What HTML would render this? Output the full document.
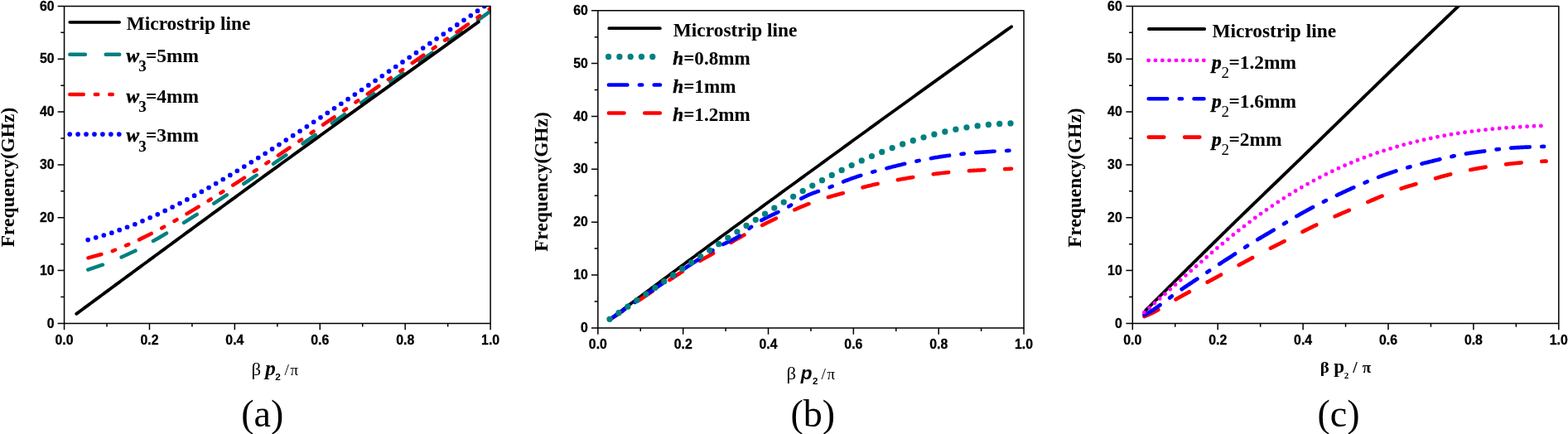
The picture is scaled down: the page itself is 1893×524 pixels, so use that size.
<!DOCTYPE html>
<html lang="en"><head><meta charset="utf-8"><title>Dispersion curves</title>
<style>html,body{margin:0;padding:0;background:#fff}body{width:1893px;height:524px;overflow:hidden}svg{display:block}</style>
</head><body>
<svg width="1893" height="524" viewBox="0 0 1893 524">
<rect width="1893" height="524" fill="#fff"/>
<g id="chart-a">
<clipPath id="clipa"><rect x="77.55" y="7.45" width="514.95" height="382.95"/></clipPath>
<g clip-path="url(#clipa)">
<path d="M106.3,325.61 L134.6,316.17 L162.9,303.03 L191.2,287.49 L219.5,270.46 L247.8,252.51 L276.1,233.99 L304.4,215.09 L332.7,195.92 L361,176.52 L389.3,156.91 L417.6,137.14 L445.9,117.24 L474.2,97.29 L502.5,77.31 L530.8,57.33 L559.1,37.28 L587.4,16.92 L594,12.1" fill="none" stroke="#008080" stroke-width="4.5" stroke-linecap="round" stroke-linejoin="round" stroke-dasharray="18.6 24.5"/>
<path d="M92.3,378.9 L94.74,377.1 L97.18,375.29 L99.62,373.49 L102.06,371.69 L104.5,369.89 L106.94,368.08 L109.38,366.28 L111.82,364.48 L114.26,362.68 L116.7,360.88 L119.14,359.08 L121.58,357.28 L124.02,355.48 L126.46,353.68 L128.9,351.88 L131.34,350.08 L133.77,348.28 L136.21,346.48 L138.65,344.68 L141.09,342.89 L143.53,341.09 L145.97,339.29 L148.41,337.49 L150.85,335.7 L153.29,333.9 L155.73,332.11 L158.17,330.31 L160.61,328.51 L163.05,326.72 L165.49,324.92 L167.93,323.13 L170.37,321.33 L172.81,319.54 L175.25,317.75 L177.69,315.95 L180.13,314.16 L182.57,312.37 L185.01,310.57 L187.45,308.78 L189.89,306.99 L192.33,305.2 L194.77,303.41 L197.21,301.61 L199.65,299.82 L202.09,298.03 L204.53,296.24 L206.97,294.45 L209.41,292.66 L211.85,290.87 L214.28,289.08 L216.72,287.29 L219.16,285.5 L221.6,283.71 L224.04,281.92 L226.48,280.13 L228.92,278.34 L231.36,276.56 L233.8,274.77 L236.24,272.98 L238.68,271.19 L241.12,269.41 L243.56,267.62 L246,265.83 L248.44,264.05 L250.88,262.26 L253.32,260.48 L255.76,258.69 L258.2,256.91 L260.64,255.12 L263.08,253.34 L265.52,251.56 L267.96,249.77 L270.4,247.99 L272.84,246.21 L275.28,244.43 L277.72,242.65 L280.16,240.86 L282.6,239.08 L285.04,237.3 L287.48,235.53 L289.92,233.75 L292.36,231.97 L294.79,230.19 L297.23,228.41 L299.67,226.64 L302.11,224.86 L304.55,223.09 L306.99,221.31 L309.43,219.54 L311.87,217.76 L314.31,215.99 L316.75,214.22 L319.19,212.45 L321.63,210.68 L324.07,208.91 L326.51,207.14 L328.95,205.37 L331.39,203.6 L333.83,201.83 L336.27,200.06 L338.71,198.29 L341.15,196.53 L343.59,194.76 L346.03,193 L348.47,191.23 L350.91,189.47 L353.35,187.7 L355.79,185.94 L358.23,184.17 L360.67,182.41 L363.11,180.65 L365.55,178.88 L367.99,177.12 L370.43,175.36 L372.87,173.6 L375.31,171.84 L377.74,170.08 L380.18,168.32 L382.62,166.56 L385.06,164.8 L387.5,163.04 L389.94,161.28 L392.38,159.52 L394.82,157.76 L397.26,156.01 L399.7,154.25 L402.14,152.49 L404.58,150.74 L407.02,148.98 L409.46,147.23 L411.9,145.47 L414.34,143.71 L416.78,141.96 L419.22,140.2 L421.66,138.45 L424.1,136.7 L426.54,134.94 L428.98,133.19 L431.42,131.43 L433.86,129.68 L436.3,127.92 L438.74,126.17 L441.18,124.42 L443.62,122.66 L446.06,120.91 L448.5,119.16 L450.94,117.4 L453.38,115.65 L455.82,113.9 L458.25,112.14 L460.69,110.39 L463.13,108.64 L465.57,106.88 L468.01,105.13 L470.45,103.37 L472.89,101.62 L475.33,99.87 L477.77,98.11 L480.21,96.36 L482.65,94.61 L485.09,92.85 L487.53,91.1 L489.97,89.35 L492.41,87.59 L494.85,85.84 L497.29,84.09 L499.73,82.33 L502.17,80.58 L504.61,78.83 L507.05,77.08 L509.49,75.32 L511.93,73.57 L514.37,71.82 L516.81,70.07 L519.25,68.32 L521.69,66.56 L524.13,64.81 L526.57,63.06 L529.01,61.31 L531.45,59.56 L533.89,57.81 L536.33,56.06 L538.76,54.3 L541.2,52.55 L543.64,50.8 L546.08,49.05 L548.52,47.3 L550.96,45.55 L553.4,43.8 L555.84,42.05 L558.28,40.3 L560.72,38.55 L563.16,36.8 L565.6,35.05 L568.04,33.3 L570.48,31.55 L572.92,29.8 L575.36,28.05 L577.8,26.3" fill="none" stroke="#000" stroke-width="3.9" stroke-linecap="round" stroke-linejoin="round"/>
<path d="M106.5,311.44 L134.8,303.53 L163.1,291.85 L191.4,277.62 L219.7,261.7 L248,244.65 L276.3,226.82 L304.6,208.43 L332.9,189.62 L361.2,170.48 L389.5,151.07 L417.8,131.5 L446.1,111.83 L474.4,92.16 L502.7,72.54 L531,52.96 L559.3,33.32 L587.6,13.33 L594,8.71" fill="none" stroke="#ff0000" stroke-width="4.5" stroke-linecap="round" stroke-linejoin="round" stroke-dasharray="16.5 14 3.5 14 3.5 14"/>
<path d="M106.2,289.61 L134.5,281.28 L162.8,270.8 L191.1,258.43 L219.4,244.43 L247.7,229.07 L276,212.59 L304.3,195.27 L332.6,177.37 L360.9,159.04 L389.2,140.38 L417.5,121.44 L445.8,102.3 L474.1,83.02 L502.4,63.68 L530.7,44.34 L559,25.06 L587.3,5.93 L601,-3.26" fill="none" stroke="#0000ff" stroke-width="5.7" stroke-linecap="round" stroke-linejoin="round" stroke-dasharray="0 9.96"/>
</g>
<rect x="77.55" y="7.45" width="514.55" height="382.95" fill="none" stroke="#000" stroke-width="1.5" stroke-linejoin="round"/>
<path d="M69.65,390.4H77.55M73.35,358.49H77.55M69.65,326.57H77.55M73.35,294.66H77.55M69.65,262.75H77.55M73.35,230.84H77.55M69.65,198.92H77.55M73.35,167.01H77.55M69.65,135.1H77.55M73.35,103.19H77.55M69.65,71.27H77.55M73.35,39.36H77.55M69.65,7.45H77.55M77.55,390.4V398.3M129,390.4V394.6M180.46,390.4V398.3M231.92,390.4V394.6M283.37,390.4V398.3M334.83,390.4V394.6M386.28,390.4V398.3M437.74,390.4V394.6M489.19,390.4V398.3M540.65,390.4V394.6M592.1,390.4V398.3" stroke="#000" stroke-width="1.5" fill="none"/>
<g font-family="'Liberation Sans', Arial, sans-serif" font-weight="bold" font-size="16.6" fill="#000" stroke="#000" stroke-width="0.3">
<text transform="translate(65.55,395.5) scale(0.955,1)" text-anchor="end">0</text>
<text transform="translate(65.55,331.68) scale(0.955,1)" text-anchor="end">10</text>
<text transform="translate(65.55,267.85) scale(0.955,1)" text-anchor="end">20</text>
<text transform="translate(65.55,204.02) scale(0.955,1)" text-anchor="end">30</text>
<text transform="translate(65.55,140.2) scale(0.955,1)" text-anchor="end">40</text>
<text transform="translate(65.55,76.37) scale(0.955,1)" text-anchor="end">50</text>
<text transform="translate(65.55,12.55) scale(0.955,1)" text-anchor="end">60</text>
<text transform="translate(77.55,415.9) scale(0.955,1)" text-anchor="middle">0.0</text>
<text transform="translate(180.46,415.9) scale(0.955,1)" text-anchor="middle">0.2</text>
<text transform="translate(283.37,415.9) scale(0.955,1)" text-anchor="middle">0.4</text>
<text transform="translate(386.28,415.9) scale(0.955,1)" text-anchor="middle">0.6</text>
<text transform="translate(489.19,415.9) scale(0.955,1)" text-anchor="middle">0.8</text>
<text transform="translate(592.1,415.9) scale(0.955,1)" text-anchor="middle">1.0</text>
</g>
<text transform="translate(16.5,214) rotate(-90)" text-anchor="middle" font-family="'Liberation Serif', 'Times New Roman', serif" font-weight="bold" font-size="23.4" fill="#000">Frequency(GHz)</text>
<path d="M84.3,26.8H144.1" fill="none" stroke="#000" stroke-width="3.8" stroke-linecap="round"/>
<path d="M84.3,65.7H144.2" fill="none" stroke="#008080" stroke-width="4.5" stroke-linecap="round" stroke-dasharray="18.6 24.75"/>
<path d="M84.3,114.1H144" fill="none" stroke="#ff0000" stroke-width="4.5" stroke-linecap="round" stroke-dasharray="16.5 14 3.5 14 3.5 14"/>
<path d="M84.2,162.1H144" fill="none" stroke="#0000ff" stroke-width="5.7" stroke-linecap="round" stroke-dasharray="0 9.93"/>
<text x="152.7" y="35.9" font-family="'Liberation Serif', 'Times New Roman', serif" font-weight="bold" font-size="23.4" fill="#000">Microstrip line</text>
<text y="75" font-family="'Liberation Serif', 'Times New Roman', serif" font-weight="bold" font-size="23.4" fill="#000"><tspan x="152.6" font-style="italic" stroke="#000" stroke-width="0.45">w</tspan><tspan x="167.3" dy="11.4" font-size="19" font-weight="bold">3</tspan><tspan x="176" dy="-11.4">=5mm</tspan></text>
<text y="123.7" font-family="'Liberation Serif', 'Times New Roman', serif" font-weight="bold" font-size="23.4" fill="#000"><tspan x="152.6" font-style="italic" stroke="#000" stroke-width="0.45">w</tspan><tspan x="167.3" dy="11.4" font-size="19" font-weight="bold">3</tspan><tspan x="176" dy="-11.4">=4mm</tspan></text>
<text y="171.1" font-family="'Liberation Serif', 'Times New Roman', serif" font-weight="bold" font-size="23.4" fill="#000"><tspan x="152.6" font-style="italic" stroke="#000" stroke-width="0.45">w</tspan><tspan x="167.3" dy="11.4" font-size="19" font-weight="bold">3</tspan><tspan x="176" dy="-11.4">=3mm</tspan></text>
<text transform="translate(303.5,452.9) scale(1.15,1)" font-family="'Liberation Serif', 'Times New Roman', serif" font-weight="normal" font-style="normal" font-size="20" fill="#000">β</text>
<text x="320.3" y="452.9" font-family="'Liberation Serif', 'Times New Roman', serif" font-weight="bold" font-style="italic" font-size="25" fill="#000">p</text>
<text x="332.3" y="459.3" font-family="'Liberation Sans', Arial, sans-serif" font-weight="bold" font-style="normal" font-size="11.8" fill="#000">2</text>
<text x="343.6" y="452.9" font-family="'Liberation Serif', 'Times New Roman', serif" font-weight="normal" font-style="normal" font-size="19.5" fill="#000">/</text>
<text x="350.4" y="452.9" font-family="'Liberation Serif', 'Times New Roman', serif" font-weight="normal" font-style="normal" font-size="19" fill="#000">π</text>
<text x="316.8" y="514.8" text-anchor="middle" font-family="'Liberation Serif', 'Times New Roman', serif" font-size="46" fill="#000">(a)</text>
</g>
<g id="chart-b">
<path d="M736.2,385.6 L738.64,383.77 L741.07,381.95 L743.51,380.12 L745.95,378.3 L748.38,376.48 L750.82,374.65 L753.26,372.83 L755.69,371.01 L758.13,369.19 L760.57,367.37 L763,365.55 L765.44,363.73 L767.88,361.91 L770.31,360.09 L772.75,358.28 L775.19,356.46 L777.62,354.64 L780.06,352.83 L782.5,351.01 L784.93,349.2 L787.37,347.39 L789.81,345.57 L792.24,343.76 L794.68,341.95 L797.12,340.14 L799.55,338.33 L801.99,336.52 L804.43,334.71 L806.86,332.9 L809.3,331.09 L811.74,329.28 L814.17,327.47 L816.61,325.67 L819.05,323.86 L821.48,322.06 L823.92,320.25 L826.36,318.45 L828.79,316.64 L831.23,314.84 L833.67,313.04 L836.1,311.24 L838.54,309.44 L840.98,307.64 L843.41,305.84 L845.85,304.04 L848.29,302.24 L850.72,300.44 L853.16,298.64 L855.6,296.84 L858.03,295.05 L860.47,293.25 L862.91,291.46 L865.34,289.66 L867.78,287.87 L870.22,286.08 L872.65,284.29 L875.09,282.5 L877.53,280.71 L879.96,278.92 L882.4,277.13 L884.84,275.34 L887.27,273.56 L889.71,271.77 L892.15,269.98 L894.58,268.2 L897.02,266.42 L899.46,264.63 L901.89,262.85 L904.33,261.07 L906.77,259.29 L909.2,257.5 L911.64,255.72 L914.08,253.94 L916.51,252.16 L918.95,250.38 L921.39,248.61 L923.82,246.83 L926.26,245.05 L928.7,243.27 L931.13,241.5 L933.57,239.72 L936.01,237.94 L938.44,236.17 L940.88,234.39 L943.32,232.62 L945.75,230.84 L948.19,229.07 L950.63,227.29 L953.06,225.52 L955.5,223.74 L957.94,221.97 L960.37,220.19 L962.81,218.42 L965.25,216.65 L967.68,214.87 L970.12,213.1 L972.56,211.33 L974.99,209.55 L977.43,207.78 L979.87,206.01 L982.31,204.23 L984.74,202.46 L987.18,200.69 L989.62,198.91 L992.05,197.14 L994.49,195.37 L996.93,193.6 L999.36,191.82 L1001.8,190.05 L1004.24,188.28 L1006.67,186.51 L1009.11,184.73 L1011.55,182.96 L1013.98,181.19 L1016.42,179.42 L1018.86,177.65 L1021.29,175.88 L1023.73,174.11 L1026.17,172.34 L1028.6,170.57 L1031.04,168.8 L1033.48,167.03 L1035.91,165.26 L1038.35,163.49 L1040.79,161.73 L1043.22,159.96 L1045.66,158.19 L1048.1,156.42 L1050.53,154.66 L1052.97,152.89 L1055.41,151.13 L1057.84,149.36 L1060.28,147.6 L1062.72,145.83 L1065.15,144.07 L1067.59,142.3 L1070.03,140.54 L1072.46,138.78 L1074.9,137.02 L1077.34,135.26 L1079.77,133.49 L1082.21,131.73 L1084.65,129.97 L1087.08,128.22 L1089.52,126.46 L1091.96,124.7 L1094.39,122.94 L1096.83,121.19 L1099.27,119.43 L1101.7,117.67 L1104.14,115.92 L1106.58,114.16 L1109.01,112.41 L1111.45,110.66 L1113.89,108.9 L1116.32,107.15 L1118.76,105.4 L1121.2,103.65 L1123.63,101.89 L1126.07,100.14 L1128.51,98.39 L1130.94,96.64 L1133.38,94.89 L1135.82,93.14 L1138.25,91.39 L1140.69,89.65 L1143.13,87.9 L1145.56,86.15 L1148,84.4 L1150.44,82.66 L1152.87,80.91 L1155.31,79.16 L1157.75,77.42 L1160.18,75.67 L1162.62,73.93 L1165.06,72.19 L1167.49,70.44 L1169.93,68.7 L1172.37,66.96 L1174.8,65.21 L1177.24,63.47 L1179.68,61.73 L1182.11,59.99 L1184.55,58.25 L1186.99,56.51 L1189.42,54.77 L1191.86,53.03 L1194.3,51.29 L1196.73,49.56 L1199.17,47.82 L1201.61,46.08 L1204.04,44.34 L1206.48,42.61 L1208.92,40.87 L1211.35,39.14 L1213.79,37.4 L1216.23,35.67 L1218.66,33.93 L1221.1,32.2" fill="none" stroke="#000" stroke-width="3.8" stroke-linecap="round" stroke-linejoin="round"/>
<path d="M736,386 L737.22,385.2 L738.43,384.41 L739.65,383.61 L740.86,382.81 L742.08,382.01 L743.29,381.21 L744.51,380.41 L745.73,379.61 L746.94,378.81 L748.16,378 L749.37,377.2 L750.59,376.39 L751.81,375.59 L753.02,374.78 L754.24,373.98 L755.45,373.17 L756.67,372.36 L757.88,371.55 L759.1,370.75 L760.32,369.94 L761.53,369.13 L762.75,368.32 L763.96,367.51 L765.18,366.7 L766.39,365.89 L767.61,365.08 L768.83,364.27 L770.04,363.46 L771.26,362.65 L772.47,361.84 L773.69,361.03 L774.91,360.22 L776.12,359.41 L777.34,358.59 L778.55,357.78 L779.77,356.97 L780.98,356.16 L782.2,355.35 L783.42,354.54 L784.63,353.73 L785.85,352.92 L787.06,352.11 L788.28,351.3 L789.49,350.49 L790.71,349.68 L791.93,348.88 L793.14,348.07 L794.36,347.26 L795.57,346.45 L796.79,345.65 L798.01,344.84 L799.22,344.04 L800.44,343.23 L801.65,342.43 L802.87,341.62 L804.08,340.82 L805.3,340.02 L806.52,339.22 L807.73,338.42 L808.95,337.62 L810.16,336.82 L811.38,336.02 L812.59,335.22 L813.81,334.43 L815.03,333.63 L816.24,332.84 L817.46,332.04 L818.67,331.25 L819.89,330.46 L821.11,329.67 L822.32,328.88 L823.54,328.09 L824.75,327.31 L825.97,326.53 L827.18,325.75 L828.4,324.97 L829.62,324.2 L830.83,323.43 L832.05,322.66 L833.26,321.9 L834.48,321.15 L835.69,320.4 L836.91,319.66 L838.13,318.92 L839.34,318.19 L840.56,317.46 L841.77,316.75 L842.99,316.04 L844.21,315.33 L845.42,314.64 L846.64,313.95 L847.85,313.27 L849.07,312.6 L850.28,311.93 L851.5,311.26 L852.72,310.59 L853.93,309.93 L855.15,309.26 L856.36,308.58 L857.58,307.91 L858.79,307.22 L860.01,306.53 L861.23,305.83 L862.44,305.12 L863.66,304.4 L864.87,303.67 L866.09,302.93 L867.31,302.19 L868.52,301.44 L869.74,300.68 L870.95,299.92 L872.17,299.16 L873.38,298.4 L874.6,297.64 L875.82,296.88 L877.03,296.12 L878.25,295.37 L879.46,294.62 L880.68,293.87 L881.89,293.14 L883.11,292.41 L884.33,291.68 L885.54,290.97 L886.76,290.26 L887.97,289.56 L889.19,288.86 L890.41,288.17 L891.62,287.48 L892.84,286.8 L894.05,286.12 L895.27,285.44 L896.48,284.76 L897.7,284.09 L898.92,283.41 L900.13,282.74 L901.35,282.07 L902.56,281.39 L903.78,280.72 L904.99,280.05 L906.21,279.38 L907.43,278.71 L908.64,278.05 L909.86,277.39 L911.07,276.73 L912.29,276.07 L913.51,275.42 L914.72,274.77 L915.94,274.13 L917.15,273.49 L918.37,272.85 L919.58,272.23 L920.8,271.6 L922.02,270.98 L923.23,270.37 L924.45,269.76 L925.66,269.16 L926.88,268.55 L928.09,267.96 L929.31,267.36 L930.53,266.77 L931.74,266.18 L932.96,265.6 L934.17,265.01 L935.39,264.43 L936.61,263.85 L937.82,263.26 L939.04,262.68 L940.25,262.1 L941.47,261.52 L942.68,260.94 L943.9,260.36 L945.12,259.79 L946.33,259.21 L947.55,258.64 L948.76,258.06 L949.98,257.5 L951.19,256.93 L952.41,256.37 L953.63,255.8 L954.84,255.25 L956.06,254.7 L957.27,254.15 L958.49,253.6 L959.71,253.06 L960.92,252.53 L962.14,252 L963.35,251.47 L964.57,250.95 L965.78,250.43 L967,249.92 L968.22,249.41 L969.43,248.91 L970.65,248.42 L971.86,247.92 L973.08,247.44 L974.29,246.96 L975.51,246.48 L976.73,246.01 L977.94,245.55 L979.16,245.09 L980.37,244.63 L981.59,244.18 L982.81,243.74 L984.02,243.3 L985.24,242.87 L986.45,242.44 L987.67,242.02 L988.88,241.6 L990.1,241.2 L991.32,240.79 L992.53,240.39 L993.75,240 L994.96,239.62 L996.18,239.24 L997.39,238.86 L998.61,238.49 L999.83,238.13 L1001.04,237.78 L1002.26,237.43 L1003.47,237.08 L1004.69,236.74 L1005.91,236.4 L1007.12,236.07 L1008.34,235.74 L1009.55,235.41 L1010.77,235.08 L1011.98,234.75 L1013.2,234.42 L1014.42,234.09 L1015.63,233.76 L1016.85,233.42 L1018.06,233.08 L1019.28,232.74 L1020.49,232.4 L1021.71,232.05 L1022.93,231.7 L1024.14,231.34 L1025.36,230.99 L1026.57,230.63 L1027.79,230.27 L1029.01,229.91 L1030.22,229.55 L1031.44,229.19 L1032.65,228.84 L1033.87,228.48 L1035.08,228.13 L1036.3,227.78 L1037.52,227.43 L1038.73,227.09 L1039.95,226.75 L1041.16,226.42 L1042.38,226.09 L1043.59,225.76 L1044.81,225.45 L1046.03,225.13 L1047.24,224.82 L1048.46,224.52 L1049.67,224.22 L1050.89,223.92 L1052.11,223.63 L1053.32,223.35 L1054.54,223.06 L1055.75,222.79 L1056.97,222.51 L1058.18,222.24 L1059.4,221.97 L1060.62,221.7 L1061.83,221.44 L1063.05,221.18 L1064.26,220.92 L1065.48,220.67 L1066.69,220.42 L1067.91,220.17 L1069.13,219.93 L1070.34,219.68 L1071.56,219.44 L1072.77,219.2 L1073.99,218.97 L1075.21,218.73 L1076.42,218.5 L1077.64,218.27 L1078.85,218.04 L1080.07,217.82 L1081.28,217.59 L1082.5,217.37 L1083.72,217.15 L1084.93,216.93 L1086.15,216.72 L1087.36,216.5 L1088.58,216.29 L1089.79,216.08 L1091.01,215.87 L1092.23,215.66 L1093.44,215.45 L1094.66,215.24 L1095.87,215.04 L1097.09,214.83 L1098.31,214.63 L1099.52,214.42 L1100.74,214.22 L1101.95,214.02 L1103.17,213.82 L1104.38,213.62 L1105.6,213.42 L1106.82,213.22 L1108.03,213.03 L1109.25,212.83 L1110.46,212.63 L1111.68,212.44 L1112.89,212.25 L1114.11,212.06 L1115.33,211.87 L1116.54,211.68 L1117.76,211.5 L1118.97,211.32 L1120.19,211.14 L1121.41,210.96 L1122.62,210.78 L1123.84,210.61 L1125.05,210.44 L1126.27,210.28 L1127.48,210.12 L1128.7,209.96 L1129.92,209.8 L1131.13,209.65 L1132.35,209.5 L1133.56,209.36 L1134.78,209.21 L1135.99,209.08 L1137.21,208.94 L1138.43,208.8 L1139.64,208.67 L1140.86,208.55 L1142.07,208.42 L1143.29,208.3 L1144.51,208.18 L1145.72,208.06 L1146.94,207.95 L1148.15,207.83 L1149.37,207.73 L1150.58,207.62 L1151.8,207.51 L1153.02,207.41 L1154.23,207.31 L1155.45,207.21 L1156.66,207.12 L1157.88,207.02 L1159.09,206.93 L1160.31,206.84 L1161.53,206.75 L1162.74,206.67 L1163.96,206.58 L1165.17,206.5 L1166.39,206.42 L1167.61,206.34 L1168.82,206.26 L1170.04,206.19 L1171.25,206.11 L1172.47,206.04 L1173.68,205.97 L1174.9,205.9 L1176.12,205.83 L1177.33,205.76 L1178.55,205.7 L1179.76,205.63 L1180.98,205.57 L1182.19,205.51 L1183.41,205.45 L1184.63,205.38 L1185.84,205.32 L1187.06,205.27 L1188.27,205.21 L1189.49,205.15 L1190.71,205.09 L1191.92,205.04 L1193.14,204.98 L1194.35,204.93 L1195.57,204.87 L1196.78,204.82 L1198,204.77 L1199.22,204.71 L1200.43,204.66 L1201.65,204.61 L1202.86,204.56 L1204.08,204.51 L1205.29,204.45 L1206.51,204.4 L1207.73,204.35 L1208.94,204.3 L1210.16,204.25 L1211.37,204.19 L1212.59,204.14 L1213.81,204.09 L1215.02,204.04 L1216.24,203.98 L1217.45,203.93 L1218.67,203.87 L1219.88,203.82 L1221.1,203.77" fill="none" stroke="#ff0000" stroke-width="4.6" stroke-linecap="round" stroke-linejoin="round" stroke-dasharray="18.6 24.75"/>
<path d="M736,385.8 L737.22,384.98 L738.43,384.15 L739.65,383.33 L740.86,382.51 L742.08,381.68 L743.29,380.86 L744.51,380.03 L745.73,379.21 L746.94,378.38 L748.16,377.55 L749.37,376.72 L750.59,375.9 L751.81,375.07 L753.02,374.24 L754.24,373.41 L755.45,372.58 L756.67,371.75 L757.88,370.92 L759.1,370.09 L760.32,369.26 L761.53,368.43 L762.75,367.6 L763.96,366.77 L765.18,365.93 L766.39,365.1 L767.61,364.27 L768.83,363.44 L770.04,362.61 L771.26,361.78 L772.47,360.94 L773.69,360.11 L774.91,359.28 L776.12,358.45 L777.34,357.62 L778.55,356.79 L779.77,355.95 L780.98,355.12 L782.2,354.29 L783.42,353.46 L784.63,352.63 L785.85,351.8 L787.06,350.97 L788.28,350.14 L789.49,349.31 L790.71,348.48 L791.93,347.65 L793.14,346.82 L794.36,345.99 L795.57,345.16 L796.79,344.33 L798.01,343.5 L799.22,342.68 L800.44,341.85 L801.65,341.02 L802.87,340.2 L804.08,339.37 L805.3,338.55 L806.52,337.72 L807.73,336.9 L808.95,336.07 L810.16,335.25 L811.38,334.43 L812.59,333.61 L813.81,332.79 L815.03,331.97 L816.24,331.15 L817.46,330.33 L818.67,329.51 L819.89,328.69 L821.11,327.88 L822.32,327.06 L823.54,326.25 L824.75,325.43 L825.97,324.62 L827.18,323.81 L828.4,323 L829.62,322.19 L830.83,321.38 L832.05,320.58 L833.26,319.77 L834.48,318.97 L835.69,318.17 L836.91,317.37 L838.13,316.57 L839.34,315.77 L840.56,314.98 L841.77,314.18 L842.99,313.39 L844.21,312.6 L845.42,311.82 L846.64,311.03 L847.85,310.25 L849.07,309.47 L850.28,308.69 L851.5,307.92 L852.72,307.14 L853.93,306.37 L855.15,305.6 L856.36,304.84 L857.58,304.08 L858.79,303.32 L860.01,302.56 L861.23,301.81 L862.44,301.06 L863.66,300.31 L864.87,299.57 L866.09,298.85 L867.31,298.13 L868.52,297.43 L869.74,296.75 L870.95,296.09 L872.17,295.44 L873.38,294.82 L874.6,294.22 L875.82,293.64 L877.03,293.06 L878.25,292.5 L879.46,291.93 L880.68,291.37 L881.89,290.8 L883.11,290.22 L884.33,289.63 L885.54,289.02 L886.76,288.39 L887.97,287.74 L889.19,287.05 L890.41,286.34 L891.62,285.59 L892.84,284.79 L894.05,283.95 L895.27,283.07 L896.48,282.16 L897.7,281.22 L898.92,280.27 L900.13,279.3 L901.35,278.32 L902.56,277.35 L903.78,276.38 L904.99,275.43 L906.21,274.51 L907.43,273.6 L908.64,272.73 L909.86,271.88 L911.07,271.05 L912.29,270.25 L913.51,269.47 L914.72,268.71 L915.94,267.97 L917.15,267.25 L918.37,266.55 L919.58,265.86 L920.8,265.2 L922.02,264.54 L923.23,263.91 L924.45,263.28 L925.66,262.67 L926.88,262.06 L928.09,261.46 L929.31,260.87 L930.53,260.29 L931.74,259.71 L932.96,259.13 L934.17,258.56 L935.39,257.98 L936.61,257.41 L937.82,256.83 L939.04,256.25 L940.25,255.66 L941.47,255.07 L942.68,254.47 L943.9,253.85 L945.12,253.23 L946.33,252.6 L947.55,251.95 L948.76,251.29 L949.98,250.61 L951.19,249.92 L952.41,249.2 L953.63,248.47 L954.84,247.72 L956.06,246.95 L957.27,246.17 L958.49,245.38 L959.71,244.59 L960.92,243.8 L962.14,243.02 L963.35,242.25 L964.57,241.49 L965.78,240.75 L967,240.04 L968.22,239.34 L969.43,238.68 L970.65,238.04 L971.86,237.43 L973.08,236.83 L974.29,236.26 L975.51,235.71 L976.73,235.18 L977.94,234.66 L979.16,234.16 L980.37,233.68 L981.59,233.2 L982.81,232.74 L984.02,232.29 L985.24,231.85 L986.45,231.42 L987.67,230.99 L988.88,230.57 L990.1,230.16 L991.32,229.74 L992.53,229.33 L993.75,228.91 L994.96,228.5 L996.18,228.08 L997.39,227.66 L998.61,227.23 L999.83,226.8 L1001.04,226.36 L1002.26,225.9 L1003.47,225.44 L1004.69,224.97 L1005.91,224.48 L1007.12,223.99 L1008.34,223.49 L1009.55,222.98 L1010.77,222.47 L1011.98,221.95 L1013.2,221.44 L1014.42,220.93 L1015.63,220.42 L1016.85,219.91 L1018.06,219.42 L1019.28,218.93 L1020.49,218.44 L1021.71,217.97 L1022.93,217.5 L1024.14,217.04 L1025.36,216.59 L1026.57,216.14 L1027.79,215.7 L1029.01,215.26 L1030.22,214.84 L1031.44,214.41 L1032.65,214 L1033.87,213.59 L1035.08,213.19 L1036.3,212.79 L1037.52,212.39 L1038.73,212.01 L1039.95,211.62 L1041.16,211.24 L1042.38,210.87 L1043.59,210.5 L1044.81,210.14 L1046.03,209.78 L1047.24,209.42 L1048.46,209.07 L1049.67,208.72 L1050.89,208.37 L1052.11,208.03 L1053.32,207.69 L1054.54,207.35 L1055.75,207.02 L1056.97,206.69 L1058.18,206.36 L1059.4,206.04 L1060.62,205.71 L1061.83,205.39 L1063.05,205.07 L1064.26,204.75 L1065.48,204.44 L1066.69,204.12 L1067.91,203.81 L1069.13,203.5 L1070.34,203.18 L1071.56,202.87 L1072.77,202.56 L1073.99,202.25 L1075.21,201.95 L1076.42,201.64 L1077.64,201.33 L1078.85,201.03 L1080.07,200.73 L1081.28,200.42 L1082.5,200.12 L1083.72,199.82 L1084.93,199.53 L1086.15,199.23 L1087.36,198.94 L1088.58,198.64 L1089.79,198.35 L1091.01,198.06 L1092.23,197.77 L1093.44,197.49 L1094.66,197.21 L1095.87,196.92 L1097.09,196.65 L1098.31,196.37 L1099.52,196.09 L1100.74,195.82 L1101.95,195.55 L1103.17,195.28 L1104.38,195.02 L1105.6,194.75 L1106.82,194.49 L1108.03,194.23 L1109.25,193.98 L1110.46,193.73 L1111.68,193.48 L1112.89,193.23 L1114.11,192.99 L1115.33,192.74 L1116.54,192.51 L1117.76,192.27 L1118.97,192.04 L1120.19,191.81 L1121.41,191.59 L1122.62,191.36 L1123.84,191.15 L1125.05,190.93 L1126.27,190.72 L1127.48,190.51 L1128.7,190.3 L1129.92,190.1 L1131.13,189.9 L1132.35,189.71 L1133.56,189.51 L1134.78,189.32 L1135.99,189.14 L1137.21,188.95 L1138.43,188.77 L1139.64,188.59 L1140.86,188.42 L1142.07,188.24 L1143.29,188.08 L1144.51,187.91 L1145.72,187.74 L1146.94,187.58 L1148.15,187.43 L1149.37,187.27 L1150.58,187.12 L1151.8,186.97 L1153.02,186.82 L1154.23,186.67 L1155.45,186.53 L1156.66,186.39 L1157.88,186.25 L1159.09,186.12 L1160.31,185.98 L1161.53,185.85 L1162.74,185.72 L1163.96,185.6 L1165.17,185.47 L1166.39,185.35 L1167.61,185.23 L1168.82,185.12 L1170.04,185 L1171.25,184.89 L1172.47,184.78 L1173.68,184.67 L1174.9,184.56 L1176.12,184.46 L1177.33,184.35 L1178.55,184.25 L1179.76,184.15 L1180.98,184.06 L1182.19,183.96 L1183.41,183.87 L1184.63,183.77 L1185.84,183.68 L1187.06,183.59 L1188.27,183.51 L1189.49,183.42 L1190.71,183.34 L1191.92,183.26 L1193.14,183.18 L1194.35,183.1 L1195.57,183.02 L1196.78,182.94 L1198,182.87 L1199.22,182.79 L1200.43,182.72 L1201.65,182.65 L1202.86,182.58 L1204.08,182.51 L1205.29,182.44 L1206.51,182.38 L1207.73,182.31 L1208.94,182.25 L1210.16,182.19 L1211.37,182.12 L1212.59,182.06 L1213.81,182 L1215.02,181.94 L1216.24,181.88 L1217.45,181.83 L1218.67,181.77 L1219.88,181.72 L1221.1,181.66" fill="none" stroke="#0000ff" stroke-width="4.6" stroke-linecap="round" stroke-linejoin="round" stroke-dasharray="22.5 14.5 3.3 14.5"/>
<path d="M736,385.3 L737.21,384.47 L738.43,383.63 L739.64,382.8 L740.85,381.97 L742.07,381.13 L743.28,380.3 L744.49,379.46 L745.71,378.63 L746.92,377.79 L748.14,376.96 L749.35,376.12 L750.56,375.28 L751.78,374.45 L752.99,373.61 L754.2,372.77 L755.42,371.93 L756.63,371.1 L757.84,370.26 L759.06,369.42 L760.27,368.58 L761.48,367.74 L762.7,366.9 L763.91,366.06 L765.12,365.22 L766.34,364.38 L767.55,363.54 L768.77,362.7 L769.98,361.86 L771.19,361.02 L772.41,360.18 L773.62,359.34 L774.83,358.5 L776.05,357.66 L777.26,356.82 L778.47,355.98 L779.69,355.14 L780.9,354.3 L782.11,353.46 L783.33,352.62 L784.54,351.78 L785.75,350.94 L786.97,350.1 L788.18,349.26 L789.4,348.41 L790.61,347.57 L791.82,346.73 L793.04,345.89 L794.25,345.05 L795.46,344.21 L796.68,343.37 L797.89,342.53 L799.1,341.69 L800.32,340.85 L801.53,340.01 L802.74,339.17 L803.96,338.33 L805.17,337.49 L806.38,336.65 L807.6,335.81 L808.81,334.97 L810.03,334.13 L811.24,333.3 L812.45,332.46 L813.67,331.62 L814.88,330.78 L816.09,329.94 L817.31,329.11 L818.52,328.27 L819.73,327.43 L820.95,326.6 L822.16,325.76 L823.37,324.92 L824.59,324.09 L825.8,323.25 L827.02,322.42 L828.23,321.58 L829.44,320.75 L830.66,319.91 L831.87,319.08 L833.08,318.25 L834.3,317.41 L835.51,316.58 L836.72,315.75 L837.94,314.92 L839.15,314.09 L840.36,313.26 L841.58,312.42 L842.79,311.6 L844,310.77 L845.22,309.94 L846.43,309.11 L847.65,308.28 L848.86,307.45 L850.07,306.63 L851.29,305.8 L852.5,304.97 L853.71,304.15 L854.93,303.32 L856.14,302.5 L857.35,301.68 L858.57,300.85 L859.78,300.03 L860.99,299.21 L862.21,298.39 L863.42,297.57 L864.63,296.75 L865.85,295.93 L867.06,295.11 L868.28,294.29 L869.49,293.48 L870.7,292.66 L871.92,291.85 L873.13,291.03 L874.34,290.22 L875.56,289.41 L876.77,288.59 L877.98,287.78 L879.2,286.97 L880.41,286.16 L881.62,285.35 L882.84,284.55 L884.05,283.74 L885.26,282.94 L886.48,282.13 L887.69,281.33 L888.91,280.53 L890.12,279.72 L891.33,278.92 L892.55,278.12 L893.76,277.33 L894.97,276.53 L896.19,275.73 L897.4,274.94 L898.61,274.14 L899.83,273.35 L901.04,272.56 L902.25,271.77 L903.47,270.98 L904.68,270.19 L905.89,269.41 L907.11,268.62 L908.32,267.84 L909.54,267.06 L910.75,266.28 L911.96,265.5 L913.18,264.72 L914.39,263.94 L915.6,263.17 L916.82,262.39 L918.03,261.62 L919.24,260.85 L920.46,260.08 L921.67,259.31 L922.88,258.54 L924.1,257.78 L925.31,257.02 L926.52,256.25 L927.74,255.49 L928.95,254.73 L930.17,253.98 L931.38,253.22 L932.59,252.47 L933.81,251.71 L935.02,250.96 L936.23,250.21 L937.45,249.47 L938.66,248.72 L939.87,247.98 L941.09,247.24 L942.3,246.5 L943.51,245.76 L944.73,245.02 L945.94,244.29 L947.15,243.55 L948.37,242.82 L949.58,242.09 L950.8,241.37 L952.01,240.64 L953.22,239.92 L954.44,239.2 L955.65,238.48 L956.86,237.76 L958.08,237.04 L959.29,236.33 L960.5,235.62 L961.72,234.91 L962.93,234.2 L964.14,233.5 L965.36,232.79 L966.57,232.09 L967.78,231.39 L969,230.7 L970.21,230 L971.43,229.31 L972.64,228.62 L973.85,227.93 L975.07,227.25 L976.28,226.56 L977.49,225.88 L978.71,225.2 L979.92,224.52 L981.13,223.85 L982.35,223.18 L983.56,222.51 L984.77,221.84 L985.99,221.18 L987.2,220.51 L988.42,219.85 L989.63,219.19 L990.84,218.54 L992.06,217.88 L993.27,217.23 L994.48,216.58 L995.7,215.94 L996.91,215.29 L998.12,214.65 L999.34,214.01 L1000.55,213.38 L1001.76,212.74 L1002.98,212.11 L1004.19,211.48 L1005.4,210.85 L1006.62,210.23 L1007.83,209.61 L1009.05,208.99 L1010.26,208.37 L1011.47,207.76 L1012.69,207.15 L1013.9,206.54 L1015.11,205.93 L1016.33,205.33 L1017.54,204.73 L1018.75,204.13 L1019.97,203.53 L1021.18,202.94 L1022.39,202.35 L1023.61,201.76 L1024.82,201.17 L1026.03,200.59 L1027.25,200.01 L1028.46,199.43 L1029.68,198.86 L1030.89,198.28 L1032.1,197.71 L1033.32,197.15 L1034.53,196.58 L1035.74,196.02 L1036.96,195.46 L1038.17,194.91 L1039.38,194.35 L1040.6,193.8 L1041.81,193.26 L1043.02,192.71 L1044.24,192.17 L1045.45,191.63 L1046.66,191.1 L1047.88,190.56 L1049.09,190.03 L1050.31,189.5 L1051.52,188.98 L1052.73,188.46 L1053.95,187.94 L1055.16,187.42 L1056.37,186.91 L1057.59,186.4 L1058.8,185.89 L1060.01,185.39 L1061.23,184.89 L1062.44,184.39 L1063.65,183.89 L1064.87,183.4 L1066.08,182.91 L1067.29,182.43 L1068.51,181.94 L1069.72,181.46 L1070.94,180.99 L1072.15,180.51 L1073.36,180.04 L1074.58,179.57 L1075.79,179.11 L1077,178.65 L1078.22,178.19 L1079.43,177.73 L1080.64,177.28 L1081.86,176.83 L1083.07,176.39 L1084.28,175.94 L1085.5,175.5 L1086.71,175.07 L1087.92,174.63 L1089.14,174.2 L1090.35,173.78 L1091.57,173.35 L1092.78,172.93 L1093.99,172.52 L1095.21,172.1 L1096.42,171.69 L1097.63,171.29 L1098.85,170.88 L1100.06,170.48 L1101.27,170.08 L1102.49,169.69 L1103.7,169.3 L1104.91,168.91 L1106.13,168.53 L1107.34,168.15 L1108.55,167.77 L1109.77,167.4 L1110.98,167.03 L1112.2,166.66 L1113.41,166.3 L1114.62,165.94 L1115.84,165.58 L1117.05,165.23 L1118.26,164.88 L1119.48,164.53 L1120.69,164.19 L1121.9,163.85 L1123.12,163.51 L1124.33,163.18 L1125.54,162.85 L1126.76,162.53 L1127.97,162.2 L1129.18,161.89 L1130.4,161.57 L1131.61,161.26 L1132.83,160.95 L1134.04,160.65 L1135.25,160.35 L1136.47,160.05 L1137.68,159.76 L1138.89,159.47 L1140.11,159.19 L1141.32,158.9 L1142.53,158.63 L1143.75,158.35 L1144.96,158.08 L1146.17,157.81 L1147.39,157.55 L1148.6,157.29 L1149.82,157.03 L1151.03,156.78 L1152.24,156.53 L1153.46,156.29 L1154.67,156.05 L1155.88,155.81 L1157.1,155.58 L1158.31,155.35 L1159.52,155.12 L1160.74,154.9 L1161.95,154.68 L1163.16,154.47 L1164.38,154.26 L1165.59,154.05 L1166.8,153.85 L1168.02,153.65 L1169.23,153.46 L1170.45,153.27 L1171.66,153.08 L1172.87,152.9 L1174.09,152.72 L1175.3,152.54 L1176.51,152.37 L1177.73,152.21 L1178.94,152.04 L1180.15,151.88 L1181.37,151.73 L1182.58,151.58 L1183.79,151.43 L1185.01,151.29 L1186.22,151.15 L1187.43,151.01 L1188.65,150.88 L1189.86,150.76 L1191.08,150.63 L1192.29,150.52 L1193.5,150.4 L1194.72,150.29 L1195.93,150.19 L1197.14,150.08 L1198.36,149.99 L1199.57,149.89 L1200.78,149.8 L1202,149.72 L1203.21,149.64 L1204.42,149.56 L1205.64,149.49 L1206.85,149.42 L1208.06,149.36 L1209.28,149.3 L1210.49,149.24 L1211.71,149.19 L1212.92,149.14 L1214.13,149.1 L1215.35,149.06 L1216.56,149.03 L1217.77,149 L1218.99,148.97 L1220.2,148.95" fill="none" stroke="#008080" stroke-width="7.3" stroke-linecap="round" stroke-linejoin="round" stroke-dasharray="0 13.33"/>
<rect x="721.85" y="12.7" width="514.2" height="383.2" fill="none" stroke="#000" stroke-width="1.5" stroke-linejoin="round"/>
<path d="M713.95,395.9H721.85M717.65,363.97H721.85M713.95,332.03H721.85M717.65,300.1H721.85M713.95,268.17H721.85M717.65,236.23H721.85M713.95,204.3H721.85M717.65,172.37H721.85M713.95,140.43H721.85M717.65,108.5H721.85M713.95,76.57H721.85M717.65,44.63H721.85M713.95,12.7H721.85M721.85,395.9V403.8M773.27,395.9V400.1M824.69,395.9V403.8M876.11,395.9V400.1M927.53,395.9V403.8M978.95,395.9V400.1M1030.37,395.9V403.8M1081.79,395.9V400.1M1133.21,395.9V403.8M1184.63,395.9V400.1M1236.05,395.9V403.8" stroke="#000" stroke-width="1.5" fill="none"/>
<g font-family="'Liberation Sans', Arial, sans-serif" font-weight="bold" font-size="16.6" fill="#000" stroke="#000" stroke-width="0.3">
<text transform="translate(709.85,401) scale(0.955,1)" text-anchor="end">0</text>
<text transform="translate(709.85,337.13) scale(0.955,1)" text-anchor="end">10</text>
<text transform="translate(709.85,273.27) scale(0.955,1)" text-anchor="end">20</text>
<text transform="translate(709.85,209.4) scale(0.955,1)" text-anchor="end">30</text>
<text transform="translate(709.85,145.53) scale(0.955,1)" text-anchor="end">40</text>
<text transform="translate(709.85,81.67) scale(0.955,1)" text-anchor="end">50</text>
<text transform="translate(709.85,17.8) scale(0.955,1)" text-anchor="end">60</text>
<text transform="translate(721.85,421.4) scale(0.955,1)" text-anchor="middle">0.0</text>
<text transform="translate(824.69,421.4) scale(0.955,1)" text-anchor="middle">0.2</text>
<text transform="translate(927.53,421.4) scale(0.955,1)" text-anchor="middle">0.4</text>
<text transform="translate(1030.37,421.4) scale(0.955,1)" text-anchor="middle">0.6</text>
<text transform="translate(1133.21,421.4) scale(0.955,1)" text-anchor="middle">0.8</text>
<text transform="translate(1236.05,421.4) scale(0.955,1)" text-anchor="middle">1.0</text>
</g>
<text transform="translate(660.5,219.5) rotate(-90)" text-anchor="middle" font-family="'Liberation Serif', 'Times New Roman', serif" font-weight="bold" font-size="23.4" fill="#000">Frequency(GHz)</text>
<path d="M735.4,34.2H796.8" fill="none" stroke="#000" stroke-width="3.8" stroke-linecap="round"/>
<path d="M734.6,68.5H790" fill="none" stroke="#008080" stroke-width="7.3" stroke-linecap="round" stroke-dasharray="0 13.3"/>
<path d="M734.9,102.5H797" fill="none" stroke="#0000ff" stroke-width="4.6" stroke-linecap="round" stroke-dasharray="22.5 14.5 3.3 14.5"/>
<path d="M734.9,136.5H797" fill="none" stroke="#ff0000" stroke-width="4.6" stroke-linecap="round" stroke-dasharray="18.6 24.75"/>
<text x="812.8" y="43.7" font-family="'Liberation Serif', 'Times New Roman', serif" font-weight="bold" font-size="23.4" fill="#000">Microstrip line</text>
<text x="812.3" y="77.7" font-family="'Liberation Serif', 'Times New Roman', serif" font-weight="bold" font-size="23.15" fill="#000"><tspan font-style="italic" stroke="#000" stroke-width="0.45">h</tspan>=0.8mm</text>
<text x="812.3" y="111.9" font-family="'Liberation Serif', 'Times New Roman', serif" font-weight="bold" font-size="23.15" fill="#000"><tspan font-style="italic" stroke="#000" stroke-width="0.45">h</tspan>=1mm</text>
<text x="812.3" y="145.9" font-family="'Liberation Serif', 'Times New Roman', serif" font-weight="bold" font-size="23.15" fill="#000"><tspan font-style="italic" stroke="#000" stroke-width="0.45">h</tspan>=1.2mm</text>
<text transform="translate(949.4,457.9) scale(1.15,1)" font-family="'Liberation Serif', 'Times New Roman', serif" font-weight="normal" font-style="normal" font-size="20" fill="#000">β</text>
<text x="966.7" y="457.9" font-family="'Liberation Sans', Arial, sans-serif" font-weight="bold" font-style="italic" font-size="22.5" fill="#000">p</text>
<text x="980.9" y="464.4" font-family="'Liberation Sans', Arial, sans-serif" font-weight="bold" font-style="normal" font-size="11.5" fill="#000">2</text>
<text x="991.6" y="457.9" font-family="'Liberation Serif', 'Times New Roman', serif" font-weight="normal" font-style="normal" font-size="19.5" fill="#000">/</text>
<text x="998.5" y="457.9" font-family="'Liberation Serif', 'Times New Roman', serif" font-weight="normal" font-style="normal" font-size="19" fill="#000">π</text>
<text x="981.3" y="514.9" text-anchor="middle" font-family="'Liberation Serif', 'Times New Roman', serif" font-size="46" fill="#000">(b)</text>
</g>
<g id="chart-c">
<clipPath id="clipc"><rect x="1367.3" y="7.45" width="514.5" height="383.0"/></clipPath>
<g clip-path="url(#clipc)">
<path d="M1383.2,374.7 L1385.15,372.75 L1387.1,370.79 L1389.04,368.84 L1390.99,366.89 L1392.94,364.94 L1394.89,362.99 L1396.84,361.04 L1398.79,359.09 L1400.73,357.15 L1402.68,355.2 L1404.63,353.26 L1406.58,351.31 L1408.53,349.37 L1410.48,347.43 L1412.42,345.48 L1414.37,343.54 L1416.32,341.6 L1418.27,339.67 L1420.22,337.73 L1422.16,335.79 L1424.11,333.86 L1426.06,331.92 L1428.01,329.99 L1429.96,328.05 L1431.91,326.12 L1433.85,324.19 L1435.8,322.26 L1437.75,320.33 L1439.7,318.4 L1441.65,316.48 L1443.6,314.55 L1445.54,312.62 L1447.49,310.7 L1449.44,308.77 L1451.39,306.85 L1453.34,304.93 L1455.28,303.01 L1457.23,301.09 L1459.18,299.17 L1461.13,297.25 L1463.08,295.34 L1465.03,293.42 L1466.97,291.51 L1468.92,289.59 L1470.87,287.68 L1472.82,285.77 L1474.77,283.85 L1476.72,281.94 L1478.66,280.04 L1480.61,278.13 L1482.56,276.22 L1484.51,274.32 L1486.46,272.42 L1488.41,270.51 L1490.35,268.62 L1492.3,266.72 L1494.25,264.82 L1496.2,262.93 L1498.15,261.04 L1500.09,259.14 L1502.04,257.25 L1503.99,255.36 L1505.94,253.48 L1507.89,251.59 L1509.84,249.7 L1511.78,247.82 L1513.73,245.93 L1515.68,244.05 L1517.63,242.17 L1519.58,240.29 L1521.53,238.41 L1523.47,236.53 L1525.42,234.65 L1527.37,232.77 L1529.32,230.89 L1531.27,229.01 L1533.21,227.13 L1535.16,225.25 L1537.11,223.38 L1539.06,221.5 L1541.01,219.62 L1542.96,217.74 L1544.9,215.87 L1546.85,213.99 L1548.8,212.11 L1550.75,210.23 L1552.7,208.35 L1554.65,206.48 L1556.59,204.6 L1558.54,202.72 L1560.49,200.84 L1562.44,198.96 L1564.39,197.08 L1566.33,195.19 L1568.28,193.31 L1570.23,191.43 L1572.18,189.54 L1574.13,187.66 L1576.08,185.77 L1578.02,183.88 L1579.97,182 L1581.92,180.11 L1583.87,178.22 L1585.82,176.33 L1587.77,174.43 L1589.71,172.54 L1591.66,170.65 L1593.61,168.75 L1595.56,166.86 L1597.51,164.96 L1599.45,163.07 L1601.4,161.17 L1603.35,159.27 L1605.3,157.38 L1607.25,155.48 L1609.2,153.58 L1611.14,151.68 L1613.09,149.79 L1615.04,147.89 L1616.99,145.99 L1618.94,144.09 L1620.89,142.19 L1622.83,140.29 L1624.78,138.39 L1626.73,136.49 L1628.68,134.59 L1630.63,132.7 L1632.57,130.8 L1634.52,128.9 L1636.47,127 L1638.42,125.1 L1640.37,123.2 L1642.32,121.31 L1644.26,119.41 L1646.21,117.51 L1648.16,115.62 L1650.11,113.72 L1652.06,111.83 L1654.01,109.93 L1655.95,108.04 L1657.9,106.14 L1659.85,104.25 L1661.8,102.36 L1663.75,100.47 L1665.69,98.58 L1667.64,96.69 L1669.59,94.8 L1671.54,92.91 L1673.49,91.03 L1675.44,89.14 L1677.38,87.26 L1679.33,85.38 L1681.28,83.49 L1683.23,81.61 L1685.18,79.73 L1687.13,77.85 L1689.07,75.98 L1691.02,74.1 L1692.97,72.23 L1694.92,70.35 L1696.87,68.48 L1698.82,66.61 L1700.76,64.74 L1702.71,62.87 L1704.66,61 L1706.61,59.14 L1708.56,57.27 L1710.5,55.41 L1712.45,53.54 L1714.4,51.68 L1716.35,49.81 L1718.3,47.95 L1720.25,46.09 L1722.19,44.22 L1724.14,42.36 L1726.09,40.5 L1728.04,38.64 L1729.99,36.78 L1731.94,34.91 L1733.88,33.05 L1735.83,31.19 L1737.78,29.33 L1739.73,27.47 L1741.68,25.6 L1743.62,23.74 L1745.57,21.88 L1747.52,20.01 L1749.47,18.15 L1751.42,16.29 L1753.37,14.42 L1755.31,12.55 L1757.26,10.69 L1759.21,8.82 L1761.16,6.95 L1763.11,5.08 L1765.06,3.21 L1767,1.34 L1768.95,-0.53 L1770.9,-2.4" fill="none" stroke="#000" stroke-width="3.9" stroke-linecap="round" stroke-linejoin="round"/>
</g>
<path d="M1381.5,382 L1382.72,381.55 L1383.93,381.07 L1385.15,380.57 L1386.36,380.05 L1387.58,379.51 L1388.79,378.95 L1390.01,378.37 L1391.23,377.77 L1392.44,377.16 L1393.66,376.54 L1394.87,375.9 L1396.09,375.25 L1397.31,374.58 L1398.52,373.91 L1399.74,373.22 L1400.95,372.53 L1402.17,371.82 L1403.38,371.11 L1404.6,370.4 L1405.82,369.68 L1407.03,368.95 L1408.25,368.22 L1409.46,367.49 L1410.68,366.76 L1411.89,366.03 L1413.11,365.3 L1414.33,364.57 L1415.54,363.84 L1416.76,363.11 L1417.97,362.39 L1419.19,361.68 L1420.41,360.97 L1421.62,360.27 L1422.84,359.57 L1424.05,358.88 L1425.27,358.2 L1426.48,357.51 L1427.7,356.84 L1428.92,356.16 L1430.13,355.49 L1431.35,354.83 L1432.56,354.16 L1433.78,353.5 L1434.99,352.84 L1436.21,352.18 L1437.43,351.52 L1438.64,350.87 L1439.86,350.21 L1441.07,349.56 L1442.29,348.91 L1443.51,348.25 L1444.72,347.6 L1445.94,346.95 L1447.15,346.3 L1448.37,345.65 L1449.58,345 L1450.8,344.35 L1452.02,343.7 L1453.23,343.04 L1454.45,342.39 L1455.66,341.74 L1456.88,341.09 L1458.09,340.43 L1459.31,339.78 L1460.53,339.12 L1461.74,338.47 L1462.96,337.81 L1464.17,337.16 L1465.39,336.5 L1466.61,335.84 L1467.82,335.18 L1469.04,334.53 L1470.25,333.87 L1471.47,333.21 L1472.68,332.55 L1473.9,331.89 L1475.12,331.23 L1476.33,330.57 L1477.55,329.91 L1478.76,329.25 L1479.98,328.59 L1481.19,327.93 L1482.41,327.26 L1483.63,326.6 L1484.84,325.94 L1486.06,325.28 L1487.27,324.62 L1488.49,323.96 L1489.71,323.3 L1490.92,322.64 L1492.14,321.97 L1493.35,321.31 L1494.57,320.65 L1495.78,319.99 L1497,319.33 L1498.22,318.67 L1499.43,318.01 L1500.65,317.35 L1501.86,316.69 L1503.08,316.04 L1504.29,315.38 L1505.51,314.72 L1506.73,314.06 L1507.94,313.41 L1509.16,312.75 L1510.37,312.09 L1511.59,311.44 L1512.81,310.78 L1514.02,310.13 L1515.24,309.48 L1516.45,308.82 L1517.67,308.17 L1518.88,307.52 L1520.1,306.88 L1521.32,306.23 L1522.53,305.58 L1523.75,304.94 L1524.96,304.3 L1526.18,303.66 L1527.39,303.03 L1528.61,302.39 L1529.83,301.76 L1531.04,301.13 L1532.26,300.51 L1533.47,299.89 L1534.69,299.27 L1535.91,298.65 L1537.12,298.04 L1538.34,297.42 L1539.55,296.81 L1540.77,296.2 L1541.98,295.59 L1543.2,294.98 L1544.42,294.37 L1545.63,293.76 L1546.85,293.15 L1548.06,292.53 L1549.28,291.91 L1550.49,291.29 L1551.71,290.67 L1552.93,290.05 L1554.14,289.42 L1555.36,288.79 L1556.57,288.16 L1557.79,287.52 L1559.01,286.89 L1560.22,286.25 L1561.44,285.62 L1562.65,284.98 L1563.87,284.34 L1565.08,283.71 L1566.3,283.07 L1567.52,282.44 L1568.73,281.81 L1569.95,281.18 L1571.16,280.55 L1572.38,279.93 L1573.59,279.3 L1574.81,278.68 L1576.03,278.07 L1577.24,277.45 L1578.46,276.84 L1579.67,276.23 L1580.89,275.63 L1582.11,275.03 L1583.32,274.43 L1584.54,273.83 L1585.75,273.23 L1586.97,272.64 L1588.18,272.05 L1589.4,271.47 L1590.62,270.88 L1591.83,270.3 L1593.05,269.72 L1594.26,269.15 L1595.48,268.58 L1596.69,268.01 L1597.91,267.44 L1599.13,266.88 L1600.34,266.32 L1601.56,265.76 L1602.77,265.2 L1603.99,264.65 L1605.21,264.1 L1606.42,263.55 L1607.64,263.01 L1608.85,262.47 L1610.07,261.93 L1611.28,261.39 L1612.5,260.86 L1613.72,260.33 L1614.93,259.8 L1616.15,259.27 L1617.36,258.75 L1618.58,258.22 L1619.79,257.7 L1621.01,257.17 L1622.23,256.65 L1623.44,256.13 L1624.66,255.6 L1625.87,255.08 L1627.09,254.55 L1628.31,254.02 L1629.52,253.49 L1630.74,252.96 L1631.95,252.42 L1633.17,251.89 L1634.38,251.35 L1635.6,250.81 L1636.82,250.27 L1638.03,249.73 L1639.25,249.19 L1640.46,248.65 L1641.68,248.11 L1642.89,247.57 L1644.11,247.04 L1645.33,246.5 L1646.54,245.96 L1647.76,245.43 L1648.97,244.9 L1650.19,244.37 L1651.41,243.84 L1652.62,243.32 L1653.84,242.8 L1655.05,242.28 L1656.27,241.76 L1657.48,241.25 L1658.7,240.74 L1659.92,240.22 L1661.13,239.71 L1662.35,239.21 L1663.56,238.7 L1664.78,238.19 L1665.99,237.69 L1667.21,237.18 L1668.43,236.68 L1669.64,236.18 L1670.86,235.67 L1672.07,235.17 L1673.29,234.67 L1674.51,234.17 L1675.72,233.68 L1676.94,233.18 L1678.15,232.7 L1679.37,232.21 L1680.58,231.73 L1681.8,231.26 L1683.02,230.79 L1684.23,230.32 L1685.45,229.87 L1686.66,229.42 L1687.88,228.98 L1689.09,228.54 L1690.31,228.12 L1691.53,227.7 L1692.74,227.29 L1693.96,226.89 L1695.17,226.5 L1696.39,226.11 L1697.61,225.73 L1698.82,225.35 L1700.04,224.98 L1701.25,224.61 L1702.47,224.25 L1703.68,223.89 L1704.9,223.53 L1706.12,223.17 L1707.33,222.81 L1708.55,222.46 L1709.76,222.1 L1710.98,221.74 L1712.19,221.38 L1713.41,221.03 L1714.63,220.67 L1715.84,220.31 L1717.06,219.95 L1718.27,219.59 L1719.49,219.23 L1720.71,218.87 L1721.92,218.51 L1723.14,218.15 L1724.35,217.79 L1725.57,217.43 L1726.78,217.08 L1728,216.73 L1729.22,216.37 L1730.43,216.02 L1731.65,215.67 L1732.86,215.33 L1734.08,214.98 L1735.29,214.64 L1736.51,214.3 L1737.73,213.96 L1738.94,213.63 L1740.16,213.3 L1741.37,212.97 L1742.59,212.64 L1743.81,212.32 L1745.02,211.99 L1746.24,211.68 L1747.45,211.36 L1748.67,211.05 L1749.88,210.74 L1751.1,210.43 L1752.32,210.13 L1753.53,209.83 L1754.75,209.53 L1755.96,209.24 L1757.18,208.95 L1758.39,208.66 L1759.61,208.38 L1760.83,208.1 L1762.04,207.82 L1763.26,207.55 L1764.47,207.28 L1765.69,207.01 L1766.91,206.75 L1768.12,206.49 L1769.34,206.23 L1770.55,205.97 L1771.77,205.72 L1772.98,205.47 L1774.2,205.23 L1775.42,204.99 L1776.63,204.75 L1777.85,204.51 L1779.06,204.28 L1780.28,204.05 L1781.49,203.82 L1782.71,203.59 L1783.93,203.37 L1785.14,203.15 L1786.36,202.94 L1787.57,202.73 L1788.79,202.52 L1790.01,202.31 L1791.22,202.11 L1792.44,201.91 L1793.65,201.71 L1794.87,201.51 L1796.08,201.32 L1797.3,201.13 L1798.52,200.94 L1799.73,200.76 L1800.95,200.58 L1802.16,200.4 L1803.38,200.22 L1804.59,200.05 L1805.81,199.88 L1807.03,199.71 L1808.24,199.55 L1809.46,199.39 L1810.67,199.23 L1811.89,199.07 L1813.11,198.92 L1814.32,198.76 L1815.54,198.62 L1816.75,198.47 L1817.97,198.33 L1819.18,198.18 L1820.4,198.05 L1821.62,197.91 L1822.83,197.78 L1824.05,197.65 L1825.26,197.52 L1826.48,197.39 L1827.69,197.27 L1828.91,197.15 L1830.13,197.03 L1831.34,196.91 L1832.56,196.8 L1833.77,196.69 L1834.99,196.58 L1836.21,196.48 L1837.42,196.37 L1838.64,196.27 L1839.85,196.17 L1841.07,196.08 L1842.28,195.98 L1843.5,195.89 L1844.72,195.8 L1845.93,195.71 L1847.15,195.63 L1848.36,195.54 L1849.58,195.46 L1850.79,195.39 L1852.01,195.31 L1853.23,195.24 L1854.44,195.17 L1855.66,195.1 L1856.87,195.03 L1858.09,194.96 L1859.31,194.9 L1860.52,194.84 L1861.74,194.78 L1862.95,194.73 L1864.17,194.67 L1865.38,194.62 L1866.6,194.57" fill="none" stroke="#ff0000" stroke-width="4.7" stroke-linecap="round" stroke-linejoin="round" stroke-dasharray="18.6 24.75"/>
<path d="M1381.5,380.2 L1382.71,379.63 L1383.92,379.02 L1385.13,378.38 L1386.34,377.71 L1387.55,377.01 L1388.76,376.29 L1389.96,375.54 L1391.17,374.78 L1392.38,373.99 L1393.59,373.18 L1394.8,372.35 L1396.01,371.51 L1397.22,370.65 L1398.43,369.79 L1399.64,368.9 L1400.85,368.01 L1402.06,367.12 L1403.27,366.21 L1404.48,365.3 L1405.69,364.39 L1406.89,363.47 L1408.1,362.56 L1409.31,361.64 L1410.52,360.73 L1411.73,359.83 L1412.94,358.93 L1414.15,358.03 L1415.36,357.15 L1416.57,356.27 L1417.78,355.41 L1418.99,354.55 L1420.2,353.69 L1421.41,352.84 L1422.62,352 L1423.82,351.17 L1425.03,350.34 L1426.24,349.51 L1427.45,348.69 L1428.66,347.87 L1429.87,347.06 L1431.08,346.25 L1432.29,345.44 L1433.5,344.63 L1434.71,343.83 L1435.92,343.02 L1437.13,342.22 L1438.34,341.42 L1439.55,340.62 L1440.75,339.82 L1441.96,339.02 L1443.17,338.21 L1444.38,337.41 L1445.59,336.6 L1446.8,335.79 L1448.01,334.98 L1449.22,334.16 L1450.43,333.35 L1451.64,332.53 L1452.85,331.71 L1454.06,330.9 L1455.27,330.08 L1456.47,329.26 L1457.68,328.44 L1458.89,327.62 L1460.1,326.8 L1461.31,325.99 L1462.52,325.17 L1463.73,324.36 L1464.94,323.55 L1466.15,322.74 L1467.36,321.93 L1468.57,321.13 L1469.78,320.33 L1470.99,319.54 L1472.2,318.74 L1473.4,317.96 L1474.61,317.17 L1475.82,316.39 L1477.03,315.61 L1478.24,314.83 L1479.45,314.06 L1480.66,313.29 L1481.87,312.51 L1483.08,311.74 L1484.29,310.96 L1485.5,310.19 L1486.71,309.41 L1487.92,308.63 L1489.13,307.85 L1490.33,307.07 L1491.54,306.28 L1492.75,305.48 L1493.96,304.69 L1495.17,303.89 L1496.38,303.09 L1497.59,302.29 L1498.8,301.49 L1500.01,300.69 L1501.22,299.9 L1502.43,299.11 L1503.64,298.32 L1504.85,297.54 L1506.06,296.77 L1507.26,296 L1508.47,295.24 L1509.68,294.48 L1510.89,293.73 L1512.1,292.98 L1513.31,292.24 L1514.52,291.5 L1515.73,290.77 L1516.94,290.04 L1518.15,289.31 L1519.36,288.58 L1520.57,287.86 L1521.78,287.14 L1522.98,286.42 L1524.19,285.71 L1525.4,284.99 L1526.61,284.28 L1527.82,283.56 L1529.03,282.85 L1530.24,282.13 L1531.45,281.42 L1532.66,280.7 L1533.87,279.98 L1535.08,279.26 L1536.29,278.54 L1537.5,277.82 L1538.71,277.1 L1539.91,276.37 L1541.12,275.64 L1542.33,274.91 L1543.54,274.18 L1544.75,273.44 L1545.96,272.71 L1547.17,271.97 L1548.38,271.24 L1549.59,270.5 L1550.8,269.77 L1552.01,269.03 L1553.22,268.3 L1554.43,267.57 L1555.64,266.84 L1556.84,266.11 L1558.05,265.39 L1559.26,264.67 L1560.47,263.95 L1561.68,263.23 L1562.89,262.52 L1564.1,261.81 L1565.31,261.11 L1566.52,260.41 L1567.73,259.71 L1568.94,259.02 L1570.15,258.33 L1571.36,257.65 L1572.57,256.97 L1573.77,256.3 L1574.98,255.63 L1576.19,254.96 L1577.4,254.3 L1578.61,253.64 L1579.82,252.98 L1581.03,252.33 L1582.24,251.69 L1583.45,251.04 L1584.66,250.4 L1585.87,249.76 L1587.08,249.13 L1588.29,248.5 L1589.49,247.87 L1590.7,247.25 L1591.91,246.62 L1593.12,246.01 L1594.33,245.39 L1595.54,244.78 L1596.75,244.17 L1597.96,243.56 L1599.17,242.96 L1600.38,242.36 L1601.59,241.76 L1602.8,241.16 L1604.01,240.57 L1605.22,239.97 L1606.42,239.38 L1607.63,238.8 L1608.84,238.21 L1610.05,237.63 L1611.26,237.05 L1612.47,236.47 L1613.68,235.89 L1614.89,235.31 L1616.1,234.74 L1617.31,234.17 L1618.52,233.6 L1619.73,233.03 L1620.94,232.46 L1622.15,231.9 L1623.35,231.34 L1624.56,230.78 L1625.77,230.22 L1626.98,229.67 L1628.19,229.11 L1629.4,228.56 L1630.61,228.01 L1631.82,227.47 L1633.03,226.92 L1634.24,226.38 L1635.45,225.85 L1636.66,225.31 L1637.87,224.78 L1639.08,224.25 L1640.28,223.72 L1641.49,223.19 L1642.7,222.67 L1643.91,222.15 L1645.12,221.64 L1646.33,221.12 L1647.54,220.61 L1648.75,220.11 L1649.96,219.6 L1651.17,219.1 L1652.38,218.61 L1653.59,218.11 L1654.8,217.62 L1656.01,217.14 L1657.21,216.65 L1658.42,216.17 L1659.63,215.69 L1660.84,215.22 L1662.05,214.75 L1663.26,214.29 L1664.47,213.82 L1665.68,213.37 L1666.89,212.91 L1668.1,212.46 L1669.31,212.01 L1670.52,211.57 L1671.73,211.13 L1672.93,210.7 L1674.14,210.27 L1675.35,209.84 L1676.56,209.42 L1677.77,209 L1678.98,208.59 L1680.19,208.18 L1681.4,207.77 L1682.61,207.37 L1683.82,206.97 L1685.03,206.58 L1686.24,206.2 L1687.45,205.81 L1688.66,205.44 L1689.86,205.06 L1691.07,204.69 L1692.28,204.33 L1693.49,203.96 L1694.7,203.61 L1695.91,203.25 L1697.12,202.9 L1698.33,202.56 L1699.54,202.21 L1700.75,201.87 L1701.96,201.53 L1703.17,201.2 L1704.38,200.87 L1705.59,200.54 L1706.79,200.21 L1708,199.89 L1709.21,199.57 L1710.42,199.25 L1711.63,198.94 L1712.84,198.62 L1714.05,198.31 L1715.26,198 L1716.47,197.7 L1717.68,197.39 L1718.89,197.09 L1720.1,196.78 L1721.31,196.48 L1722.52,196.18 L1723.72,195.88 L1724.93,195.59 L1726.14,195.29 L1727.35,195 L1728.56,194.7 L1729.77,194.41 L1730.98,194.11 L1732.19,193.82 L1733.4,193.53 L1734.61,193.24 L1735.82,192.95 L1737.03,192.65 L1738.24,192.36 L1739.44,192.07 L1740.65,191.78 L1741.86,191.49 L1743.07,191.2 L1744.28,190.91 L1745.49,190.62 L1746.7,190.33 L1747.91,190.05 L1749.12,189.76 L1750.33,189.48 L1751.54,189.21 L1752.75,188.93 L1753.96,188.66 L1755.17,188.39 L1756.37,188.13 L1757.58,187.87 L1758.79,187.61 L1760,187.36 L1761.21,187.12 L1762.42,186.88 L1763.63,186.65 L1764.84,186.42 L1766.05,186.19 L1767.26,185.98 L1768.47,185.77 L1769.68,185.57 L1770.89,185.37 L1772.1,185.18 L1773.3,185 L1774.51,184.82 L1775.72,184.65 L1776.93,184.48 L1778.14,184.31 L1779.35,184.15 L1780.56,183.99 L1781.77,183.83 L1782.98,183.67 L1784.19,183.52 L1785.4,183.36 L1786.61,183.2 L1787.82,183.05 L1789.03,182.89 L1790.23,182.73 L1791.44,182.56 L1792.65,182.4 L1793.86,182.23 L1795.07,182.06 L1796.28,181.89 L1797.49,181.71 L1798.7,181.54 L1799.91,181.37 L1801.12,181.19 L1802.33,181.02 L1803.54,180.86 L1804.75,180.69 L1805.95,180.53 L1807.16,180.37 L1808.37,180.22 L1809.58,180.08 L1810.79,179.94 L1812,179.8 L1813.21,179.67 L1814.42,179.54 L1815.63,179.42 L1816.84,179.3 L1818.05,179.19 L1819.26,179.08 L1820.47,178.98 L1821.68,178.88 L1822.88,178.78 L1824.09,178.69 L1825.3,178.6 L1826.51,178.51 L1827.72,178.43 L1828.93,178.35 L1830.14,178.27 L1831.35,178.2 L1832.56,178.13 L1833.77,178.06 L1834.98,178 L1836.19,177.93 L1837.4,177.87 L1838.61,177.82 L1839.81,177.76 L1841.02,177.71 L1842.23,177.66 L1843.44,177.61 L1844.65,177.56 L1845.86,177.51 L1847.07,177.46 L1848.28,177.42 L1849.49,177.38 L1850.7,177.34 L1851.91,177.29 L1853.12,177.25 L1854.33,177.21 L1855.54,177.17 L1856.74,177.14 L1857.95,177.1 L1859.16,177.06 L1860.37,177.02 L1861.58,176.98 L1862.79,176.94 L1864,176.9" fill="none" stroke="#0000ff" stroke-width="4.7" stroke-linecap="round" stroke-linejoin="round" stroke-dasharray="22.5 14.5 3.3 14.5"/>
<path d="M1381.4,377.14 L1382.6,376.09 L1383.8,375.04 L1385.01,373.99 L1386.21,372.93 L1387.41,371.87 L1388.61,370.81 L1389.81,369.75 L1391.02,368.69 L1392.22,367.63 L1393.42,366.56 L1394.62,365.5 L1395.82,364.43 L1397.03,363.37 L1398.23,362.3 L1399.43,361.23 L1400.63,360.16 L1401.83,359.09 L1403.04,358.02 L1404.24,356.95 L1405.44,355.88 L1406.64,354.81 L1407.84,353.73 L1409.05,352.66 L1410.25,351.59 L1411.45,350.51 L1412.65,349.44 L1413.85,348.37 L1415.06,347.29 L1416.26,346.22 L1417.46,345.14 L1418.66,344.07 L1419.86,343 L1421.07,341.92 L1422.27,340.85 L1423.47,339.78 L1424.67,338.7 L1425.87,337.63 L1427.08,336.56 L1428.28,335.49 L1429.48,334.42 L1430.68,333.35 L1431.88,332.28 L1433.09,331.21 L1434.29,330.14 L1435.49,329.07 L1436.69,328.01 L1437.89,326.94 L1439.1,325.88 L1440.3,324.82 L1441.5,323.76 L1442.7,322.7 L1443.9,321.64 L1445.11,320.58 L1446.31,319.52 L1447.51,318.47 L1448.71,317.41 L1449.91,316.36 L1451.12,315.31 L1452.32,314.26 L1453.52,313.22 L1454.72,312.17 L1455.92,311.13 L1457.13,310.09 L1458.33,309.05 L1459.53,308.01 L1460.73,306.98 L1461.93,305.94 L1463.14,304.91 L1464.34,303.88 L1465.54,302.86 L1466.74,301.83 L1467.94,300.81 L1469.15,299.79 L1470.35,298.77 L1471.55,297.76 L1472.75,296.75 L1473.95,295.74 L1475.16,294.73 L1476.36,293.73 L1477.56,292.73 L1478.76,291.73 L1479.96,290.74 L1481.17,289.75 L1482.37,288.76 L1483.57,287.78 L1484.77,286.79 L1485.97,285.81 L1487.18,284.84 L1488.38,283.87 L1489.58,282.9 L1490.78,281.93 L1491.98,280.97 L1493.19,280.02 L1494.39,279.06 L1495.59,278.11 L1496.79,277.16 L1497.99,276.22 L1499.2,275.28 L1500.4,274.35 L1501.6,273.42 L1502.8,272.49 L1504,271.57 L1505.21,270.65 L1506.41,269.73 L1507.61,268.82 L1508.81,267.92 L1510.01,267.01 L1511.22,266.11 L1512.42,265.22 L1513.62,264.33 L1514.82,263.44 L1516.02,262.56 L1517.23,261.68 L1518.43,260.81 L1519.63,259.94 L1520.83,259.07 L1522.03,258.21 L1523.24,257.35 L1524.44,256.5 L1525.64,255.65 L1526.84,254.8 L1528.04,253.96 L1529.25,253.12 L1530.45,252.28 L1531.65,251.45 L1532.85,250.63 L1534.05,249.81 L1535.26,248.99 L1536.46,248.17 L1537.66,247.36 L1538.86,246.56 L1540.06,245.76 L1541.27,244.96 L1542.47,244.16 L1543.67,243.37 L1544.87,242.59 L1546.07,241.8 L1547.28,241.03 L1548.48,240.25 L1549.68,239.48 L1550.88,238.72 L1552.08,237.95 L1553.29,237.2 L1554.49,236.44 L1555.69,235.69 L1556.89,234.95 L1558.09,234.2 L1559.3,233.47 L1560.5,232.73 L1561.7,232 L1562.9,231.27 L1564.1,230.55 L1565.31,229.83 L1566.51,229.12 L1567.71,228.41 L1568.91,227.7 L1570.11,227 L1571.32,226.3 L1572.52,225.61 L1573.72,224.92 L1574.92,224.23 L1576.12,223.55 L1577.33,222.87 L1578.53,222.2 L1579.73,221.52 L1580.93,220.86 L1582.13,220.2 L1583.34,219.54 L1584.54,218.88 L1585.74,218.23 L1586.94,217.58 L1588.14,216.94 L1589.35,216.3 L1590.55,215.67 L1591.75,215.04 L1592.95,214.41 L1594.15,213.79 L1595.36,213.17 L1596.56,212.55 L1597.76,211.94 L1598.96,211.33 L1600.16,210.73 L1601.37,210.13 L1602.57,209.53 L1603.77,208.94 L1604.97,208.35 L1606.17,207.77 L1607.38,207.19 L1608.58,206.62 L1609.78,206.04 L1610.98,205.48 L1612.18,204.91 L1613.39,204.35 L1614.59,203.79 L1615.79,203.24 L1616.99,202.69 L1618.19,202.15 L1619.4,201.61 L1620.6,201.07 L1621.8,200.54 L1623,200.01 L1624.21,199.48 L1625.41,198.96 L1626.61,198.44 L1627.81,197.93 L1629.01,197.42 L1630.22,196.91 L1631.42,196.4 L1632.62,195.9 L1633.82,195.41 L1635.02,194.92 L1636.23,194.43 L1637.43,193.94 L1638.63,193.46 L1639.83,192.98 L1641.03,192.51 L1642.24,192.04 L1643.44,191.57 L1644.64,191.1 L1645.84,190.64 L1647.04,190.19 L1648.25,189.73 L1649.45,189.28 L1650.65,188.84 L1651.85,188.39 L1653.05,187.96 L1654.26,187.52 L1655.46,187.09 L1656.66,186.66 L1657.86,186.23 L1659.06,185.81 L1660.27,185.39 L1661.47,184.97 L1662.67,184.56 L1663.87,184.15 L1665.07,183.75 L1666.28,183.34 L1667.48,182.94 L1668.68,182.55 L1669.88,182.16 L1671.08,181.77 L1672.29,181.38 L1673.49,181 L1674.69,180.62 L1675.89,180.24 L1677.09,179.87 L1678.3,179.5 L1679.5,179.13 L1680.7,178.77 L1681.9,178.41 L1683.1,178.05 L1684.31,177.69 L1685.51,177.34 L1686.71,176.99 L1687.91,176.65 L1689.11,176.3 L1690.32,175.97 L1691.52,175.63 L1692.72,175.3 L1693.92,174.97 L1695.12,174.64 L1696.33,174.31 L1697.53,173.99 L1698.73,173.67 L1699.93,173.36 L1701.13,173.04 L1702.34,172.73 L1703.54,172.43 L1704.74,172.12 L1705.94,171.82 L1707.14,171.52 L1708.35,171.23 L1709.55,170.94 L1710.75,170.65 L1711.95,170.36 L1713.15,170.07 L1714.36,169.79 L1715.56,169.51 L1716.76,169.24 L1717.96,168.96 L1719.16,168.69 L1720.37,168.42 L1721.57,168.16 L1722.77,167.9 L1723.97,167.64 L1725.17,167.38 L1726.38,167.12 L1727.58,166.87 L1728.78,166.62 L1729.98,166.37 L1731.18,166.13 L1732.39,165.89 L1733.59,165.65 L1734.79,165.41 L1735.99,165.18 L1737.19,164.94 L1738.4,164.72 L1739.6,164.49 L1740.8,164.26 L1742,164.04 L1743.2,163.82 L1744.41,163.61 L1745.61,163.39 L1746.81,163.18 L1748.01,162.97 L1749.21,162.76 L1750.42,162.56 L1751.62,162.35 L1752.82,162.15 L1754.02,161.95 L1755.22,161.76 L1756.43,161.56 L1757.63,161.37 L1758.83,161.18 L1760.03,161 L1761.23,160.81 L1762.44,160.63 L1763.64,160.45 L1764.84,160.27 L1766.04,160.09 L1767.24,159.92 L1768.45,159.75 L1769.65,159.58 L1770.85,159.41 L1772.05,159.25 L1773.25,159.08 L1774.46,158.92 L1775.66,158.76 L1776.86,158.61 L1778.06,158.45 L1779.26,158.3 L1780.47,158.15 L1781.67,158 L1782.87,157.85 L1784.07,157.71 L1785.27,157.57 L1786.48,157.42 L1787.68,157.29 L1788.88,157.15 L1790.08,157.01 L1791.28,156.88 L1792.49,156.75 L1793.69,156.62 L1794.89,156.49 L1796.09,156.37 L1797.29,156.24 L1798.5,156.12 L1799.7,156 L1800.9,155.88 L1802.1,155.76 L1803.3,155.65 L1804.51,155.54 L1805.71,155.42 L1806.91,155.31 L1808.11,155.21 L1809.31,155.1 L1810.52,154.99 L1811.72,154.89 L1812.92,154.79 L1814.12,154.69 L1815.32,154.59 L1816.53,154.5 L1817.73,154.4 L1818.93,154.31 L1820.13,154.22 L1821.33,154.12 L1822.54,154.04 L1823.74,153.95 L1824.94,153.86 L1826.14,153.78 L1827.34,153.7 L1828.55,153.62 L1829.75,153.54 L1830.95,153.46 L1832.15,153.38 L1833.35,153.3 L1834.56,153.23 L1835.76,153.16 L1836.96,153.09 L1838.16,153.02 L1839.36,152.95 L1840.57,152.88 L1841.77,152.82 L1842.97,152.75 L1844.17,152.69 L1845.37,152.63 L1846.58,152.57 L1847.78,152.51 L1848.98,152.45 L1850.18,152.39 L1851.38,152.34 L1852.59,152.28 L1853.79,152.23 L1854.99,152.18 L1856.19,152.12 L1857.39,152.07 L1858.6,152.03 L1859.8,151.98 L1861,151.93" fill="none" stroke="#ff00ff" stroke-width="4.9" stroke-linecap="round" stroke-linejoin="round" stroke-dasharray="0 8.38"/>
<rect x="1367.3" y="7.45" width="514.5" height="383" fill="none" stroke="#000" stroke-width="1.5" stroke-linejoin="round"/>
<path d="M1359.4,390.45H1367.3M1363.1,358.53H1367.3M1359.4,326.62H1367.3M1363.1,294.7H1367.3M1359.4,262.78H1367.3M1363.1,230.87H1367.3M1359.4,198.95H1367.3M1363.1,167.03H1367.3M1359.4,135.12H1367.3M1363.1,103.2H1367.3M1359.4,71.28H1367.3M1363.1,39.37H1367.3M1359.4,7.45H1367.3M1367.3,390.45V398.35M1418.75,390.45V394.65M1470.2,390.45V398.35M1521.65,390.45V394.65M1573.1,390.45V398.35M1624.55,390.45V394.65M1676,390.45V398.35M1727.45,390.45V394.65M1778.9,390.45V398.35M1830.35,390.45V394.65M1881.8,390.45V398.35" stroke="#000" stroke-width="1.5" fill="none"/>
<g font-family="'Liberation Sans', Arial, sans-serif" font-weight="bold" font-size="16.6" fill="#000" stroke="#000" stroke-width="0.3">
<text transform="translate(1354.7,395.55) scale(0.955,1)" text-anchor="end">0</text>
<text transform="translate(1354.7,331.72) scale(0.955,1)" text-anchor="end">10</text>
<text transform="translate(1354.7,267.88) scale(0.955,1)" text-anchor="end">20</text>
<text transform="translate(1354.7,204.05) scale(0.955,1)" text-anchor="end">30</text>
<text transform="translate(1354.7,140.22) scale(0.955,1)" text-anchor="end">40</text>
<text transform="translate(1354.7,76.38) scale(0.955,1)" text-anchor="end">50</text>
<text transform="translate(1354.7,12.55) scale(0.955,1)" text-anchor="end">60</text>
<text transform="translate(1367.3,415.95) scale(0.955,1)" text-anchor="middle">0.0</text>
<text transform="translate(1470.2,415.95) scale(0.955,1)" text-anchor="middle">0.2</text>
<text transform="translate(1573.1,415.95) scale(0.955,1)" text-anchor="middle">0.4</text>
<text transform="translate(1676,415.95) scale(0.955,1)" text-anchor="middle">0.6</text>
<text transform="translate(1778.9,415.95) scale(0.955,1)" text-anchor="middle">0.8</text>
<text transform="translate(1881.8,415.95) scale(0.955,1)" text-anchor="middle">1.0</text>
</g>
<text transform="translate(1305.0,214.6) rotate(-90)" text-anchor="middle" font-family="'Liberation Serif', 'Times New Roman', serif" font-weight="bold" font-size="23.4" fill="#000">Frequency(GHz)</text>
<path d="M1386.9,35H1454.2" fill="none" stroke="#000" stroke-width="3.8" stroke-linecap="round"/>
<path d="M1386.65,72.9H1454" fill="none" stroke="#ff00ff" stroke-width="4.9" stroke-linecap="round" stroke-dasharray="0 8.33"/>
<path d="M1386.7,119.2H1453.5" fill="none" stroke="#0000ff" stroke-width="4.6" stroke-linecap="round" stroke-dasharray="22.5 14.5 3.3 14.5"/>
<path d="M1386.7,165.6H1448.4" fill="none" stroke="#ff0000" stroke-width="4.6" stroke-linecap="round" stroke-dasharray="18.6 24.75"/>
<text x="1463.4" y="45.4" font-family="'Liberation Serif', 'Times New Roman', serif" font-weight="bold" font-size="23.4" fill="#000">Microstrip line</text>
<text y="83.3" font-family="'Liberation Serif', 'Times New Roman', serif" font-weight="bold" font-size="23.4" fill="#000"><tspan x="1463.1" font-style="italic" stroke="#000" stroke-width="0.45">p</tspan><tspan x="1474.5" dy="10.7" font-size="19" font-weight="normal">2</tspan><tspan x="1483.4" dy="-10.7">=1.2mm</tspan></text>
<text y="130" font-family="'Liberation Serif', 'Times New Roman', serif" font-weight="bold" font-size="23.4" fill="#000"><tspan x="1463.1" font-style="italic" stroke="#000" stroke-width="0.45">p</tspan><tspan x="1474.5" dy="10.7" font-size="19" font-weight="normal">2</tspan><tspan x="1483.4" dy="-10.7">=1.6mm</tspan></text>
<text y="176.4" font-family="'Liberation Serif', 'Times New Roman', serif" font-weight="bold" font-size="23.4" fill="#000"><tspan x="1463.1" font-style="italic" stroke="#000" stroke-width="0.45">p</tspan><tspan x="1474.5" dy="10.7" font-size="19" font-weight="normal">2</tspan><tspan x="1483.4" dy="-10.7">=2mm</tspan></text>
<text transform="translate(1593.8,449.9) scale(1.1,1)" font-family="'Liberation Serif', 'Times New Roman', serif" font-weight="bold" font-style="normal" font-size="19" fill="#000">β</text>
<text x="1610.3" y="449.9" font-family="'Liberation Serif', 'Times New Roman', serif" font-weight="bold" font-style="normal" font-size="23" fill="#000">p</text>
<text x="1622.8" y="456.5" font-family="'Liberation Serif', 'Times New Roman', serif" font-weight="bold" font-style="normal" font-size="11" fill="#000">2</text>
<text x="1633.2" y="449.9" font-family="'Liberation Serif', 'Times New Roman', serif" font-weight="bold" font-style="normal" font-size="19.5" fill="#000">/</text>
<text x="1644.7" y="449.9" font-family="'Liberation Serif', 'Times New Roman', serif" font-weight="bold" font-style="normal" font-size="19" fill="#000">π</text>
<text x="1616" y="514.9" text-anchor="middle" font-family="'Liberation Serif', 'Times New Roman', serif" font-size="46" fill="#000">(c)</text>
</g>
</svg>
</body></html>
